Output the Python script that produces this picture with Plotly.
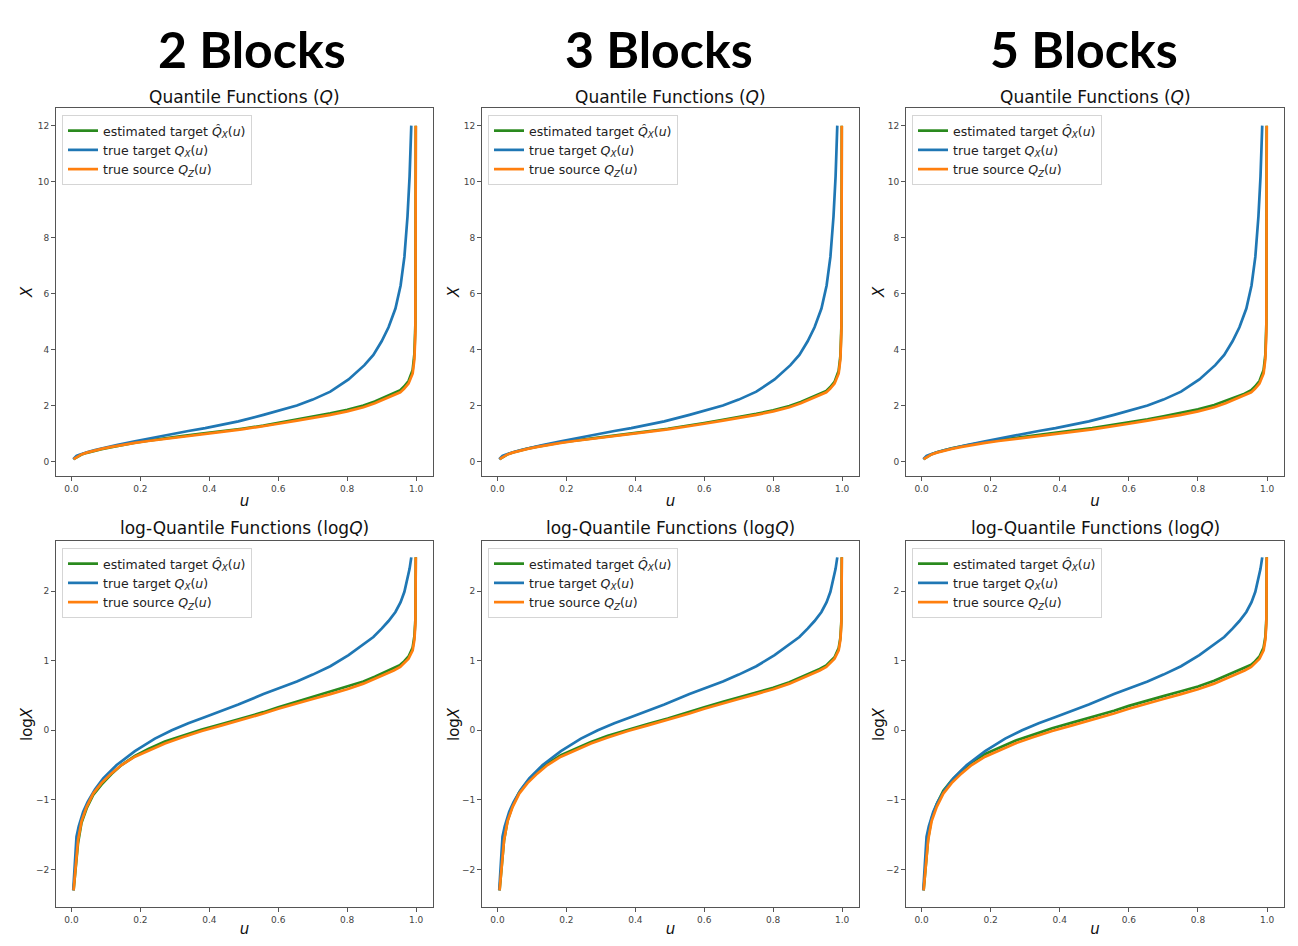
import numpy as np
import plotly.graph_objects as go

# column headers
blocks = ["2 Blocks", "3 Blocks", "5 Blocks"]

# log-quantiles (top panels are exp of these)
source_u = [0.006, 0.012, 0.019, 0.029, 0.044, 0.063, 0.087, 0.116, 0.145, 0.184,
            0.223, 0.271, 0.32, 0.378, 0.436, 0.494, 0.557, 0.6, 0.654, 0.7,
            0.751, 0.8, 0.847, 0.88, 0.915, 0.935, 0.954, 0.965, 0.978, 0.99,
            0.995, 0.998, 0.999]
source_logq = [-2.30, -1.96, -1.58, -1.31, -1.10, -0.91, -0.76, -0.62, -0.50, -0.38,
               -0.29, -0.19, -0.105, -0.01, 0.07, 0.15, 0.24, 0.31, 0.39, 0.45,
               0.52, 0.59, 0.67, 0.74, 0.82, 0.86, 0.91, 0.96, 1.03, 1.15,
               1.30, 1.54, 2.485]

target_u = [0.005, 0.010, 0.0145, 0.021, 0.034, 0.047, 0.068, 0.092, 0.131, 0.184,
            0.242, 0.291, 0.339, 0.388, 0.436, 0.484, 0.557, 0.6, 0.654, 0.7,
            0.751, 0.804, 0.85, 0.876, 0.9, 0.92, 0.94, 0.955, 0.966, 0.975,
            0.981, 0.986]
target_logq = [-2.30, -1.85, -1.53, -1.38, -1.17, -1.03, -0.85, -0.69, -0.50, -0.30,
               -0.12, 0.0, 0.10, 0.19, 0.28, 0.37, 0.52, 0.60, 0.70, 0.80,
               0.92, 1.08, 1.24, 1.34, 1.46, 1.57, 1.70, 1.84, 1.99, 2.17,
               2.32, 2.485]

# estimated target, one per block count (same u grid as the source)
est_u = source_u
est_logq_2 = [-2.30, -1.98, -1.62, -1.33, -1.12, -0.93, -0.78, -0.63, -0.50, -0.37,
              -0.27, -0.16, -0.08, 0.01, 0.09, 0.17, 0.26, 0.33, 0.41, 0.48,
              0.55, 0.62, 0.70, 0.77, 0.85, 0.89, 0.94, 0.99, 1.06, 1.19,
              1.35, 1.60, 2.485]
est_logq_3 = [-2.30, -1.95, -1.58, -1.30, -1.08, -0.89, -0.74, -0.60, -0.48, -0.36,
              -0.27, -0.17, -0.08, 0.01, 0.09, 0.17, 0.26, 0.33, 0.41, 0.47,
              0.54, 0.61, 0.69, 0.76, 0.84, 0.88, 0.93, 0.98, 1.05, 1.18,
              1.33, 1.58, 2.485]
est_logq_5 = [-2.30, -1.94, -1.56, -1.27, -1.06, -0.87, -0.72, -0.58, -0.46, -0.34,
              -0.25, -0.15, -0.07, 0.03, 0.11, 0.19, 0.28, 0.35, 0.42, 0.49,
              0.56, 0.63, 0.71, 0.78, 0.85, 0.89, 0.94, 0.99, 1.06, 1.19,
              1.34, 1.60, 2.485]
est_by_block = [est_logq_2, est_logq_3, est_logq_5]

GREEN, BLUE, ORANGE = "#2a8a1e", "#1f77b4", "#ff7f0e"
names = ["estimated target <i>Q̂</i><sub><i>X</i></sub>(<i>u</i>)",
         "true target <i>Q</i><sub><i>X</i></sub>(<i>u</i>)",
         "true source <i>Q</i><sub><i>Z</i></sub>(<i>u</i>)"]

# page is offset 8px by the body margin; plot area is 1282x930
W, H, OFF = 1282, 930, 8
def px(x):
    return (x - OFF) / W
def py(y):
    return 1 - (y - OFF) / H

col_px = [(56, 433), (482, 859), (906, 1284)]
row_px = [(108, 476), (541, 907)]
header_x = [252, 659, 1084]
ylabel_x = [27, 454, 879]
title_y = [97, 528]

fig = go.Figure()
layout = {}
annotations = []
FONT = "DejaVu Sans"

for c in range(3):
    est = est_by_block[c]
    for r in range(2):
        k = r * 3 + c + 1
        xid = "x" if k == 1 else f"x{k}"
        yid = "y" if k == 1 else f"y{k}"
        lid = "legend" if k == 1 else f"legend{k}"
        if r == 0:
            ys = [np.exp(est), np.exp(target_logq), np.exp(source_logq)]
        else:
            ys = [est, target_logq, source_logq]
        xs = [est_u, target_u, source_u]
        for name, xv, yv, col in zip(names, xs, ys, [GREEN, BLUE, ORANGE]):
            fig.add_trace(go.Scatter(
                x=xv, y=yv, mode="lines", name=name,
                line=dict(color=col, width=2.7),
                xaxis=xid, yaxis=yid, legend=lid, showlegend=True,
            ))

        x0, x1 = col_px[c]
        y0, y1 = row_px[r]
        axis_common = dict(
            showline=True, mirror=True, linecolor="#555", linewidth=1,
            showgrid=False, zeroline=False, ticks="outside", ticklen=4,
            tickcolor="#555", tickfont=dict(family=FONT, size=9, color="#444"),
        )
        layout["xaxis" if k == 1 else f"xaxis{k}"] = dict(
            domain=[px(x0), px(x1)], anchor=yid, range=[-0.045, 1.049],
            tickvals=[0, 0.2, 0.4, 0.6, 0.8, 1.0], tickformat=".1f",
            title=dict(text="<i>u</i>", font=dict(family=FONT, size=15, color="#111"),
                       standoff=2),
            **axis_common)
        if r == 0:
            yrange, yticks = [-0.5, 12.63], [0, 2, 4, 6, 8, 10, 12]
            ytitle = "<i>X</i>"
            ttl = "Quantile Functions (<i>Q</i>)"
        else:
            yrange, yticks = [-2.54, 2.72], [-2, -1, 0, 1, 2]
            ytitle = "log<i>X</i>"
            ttl = "log-Quantile Functions (log<i>Q</i>)"
        layout["yaxis" if k == 1 else f"yaxis{k}"] = dict(
            domain=[py(y1), py(y0)], anchor=xid, range=yrange,
            tickvals=yticks, tickformat="d", **axis_common)
        layout[lid] = dict(
            x=px(x0 + 6), y=py(y0 + 7), xanchor="left", yanchor="top",
            bgcolor="rgba(255,255,255,0.85)", bordercolor="#d5d5d5", borderwidth=1,
            font=dict(family=FONT, size=12.5, color="#222"),
            itemwidth=30, tracegroupgap=0,
        )
        annotations.append(dict(
            text=ttl, x=px((x0 + x1) / 2), y=py(title_y[r]), xref="paper", yref="paper",
            xanchor="center", yanchor="middle", showarrow=False,
            font=dict(family=FONT, size=17, color="#111"),
        ))
        annotations.append(dict(
            text=ytitle, x=px(ylabel_x[c]), y=py((y0 + y1) / 2), xref="paper",
            yref="paper", xanchor="center", yanchor="middle", textangle=-90,
            showarrow=False, font=dict(family=FONT, size=15, color="#111"),
        ))
    annotations.append(dict(
        text="<b>" + blocks[c] + "</b>", x=px(header_x[c]), y=py(49),
        xref="paper", yref="paper", xanchor="center", yanchor="middle",
        showarrow=False, font=dict(family="Lato", size=50, color="#000"),
    ))

fig.update_layout(
    width=W, height=H, margin=dict(l=0, r=0, t=0, b=0),
    paper_bgcolor="white", plot_bgcolor="white",
    annotations=annotations, **layout,
)

fig.write_html("out.html")
